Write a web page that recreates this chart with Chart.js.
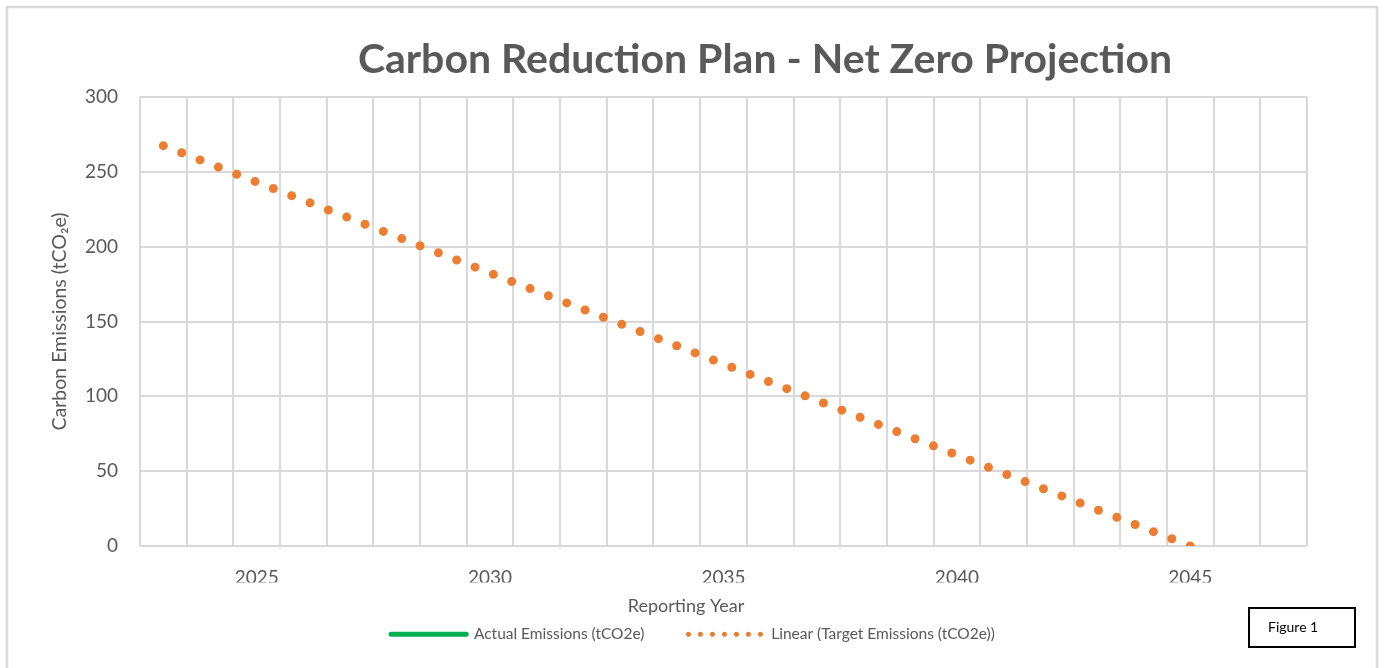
<!DOCTYPE html>
<html>
<head>
<meta charset="utf-8">
<script src="https://cdn.jsdelivr.net/npm/chart.js@4.4.1/dist/chart.umd.min.js"></script>
<style>
  html, body { margin: 0; padding: 0; background: #fff; }
  #wrap { width: 1386px; height: 668px; }
</style>
</head>
<body>
<div id="wrap"><canvas id="netZeroChart" width="1386" height="668"></canvas></div>
<script>
// données
const seriesNames = ['Actual Emissions (tCO2e)', 'Linear (Target Emissions (tCO2e))'];
const actualYears = [];
const actualEmissions = [];
const targetYears = [2023, 2045];
const targetEmissions = [267.5, 0];
const xLabelYears = [2025, 2030, 2035, 2040, 2045];
const yTicks = [0, 50, 100, 150, 200, 250, 300];

const FONT = 'Lato, Calibri, "Open Sans", sans-serif';
const GREY = '#595959';
const GRID = '#d9d9d9';
const PAD_BOTTOM = 16;

// titre, titre d'axe X, cadre et étiquette "Figure 1"
const decor = {
  id: 'decor',
  beforeDraw(chart) {
    const ctx = chart.ctx;
    ctx.save();
    ctx.fillStyle = '#fff';
    ctx.fillRect(0, 0, chart.width, chart.height);
    ctx.strokeStyle = GRID;
    ctx.lineWidth = 2.5;
    ctx.strokeRect(7, 7, 1370, 680);
    ctx.restore();
  },
  afterDraw(chart) {
    const ctx = chart.ctx;
    ctx.save();
    ctx.fillStyle = GREY;
    ctx.textAlign = 'center';
    ctx.textBaseline = 'alphabetic';
    ctx.font = 'bold 41px ' + FONT;
    ctx.fillText('Carbon Reduction Plan - Net Zero Projection', 765, 73);
    ctx.font = '18px ' + FONT;
    ctx.textBaseline = 'middle';
    ctx.fillText('Reporting Year', 686, 606);
    ctx.strokeStyle = '#000';
    ctx.lineWidth = 2;
    ctx.strokeRect(1249, 608, 106, 39);
    ctx.fillStyle = '#000';
    ctx.textAlign = 'left';
    ctx.font = '14px ' + FONT;
    ctx.fillText('Figure 1', 1268, 627);
    ctx.restore();
  }
};

new Chart(document.getElementById('netZeroChart'), {
  type: 'line',
  data: {
    datasets: [{
      label: seriesNames[0],
      data: actualYears.map((x, i) => ({ x: x, y: actualEmissions[i] })),
      borderColor: '#00B050',
      backgroundColor: '#00B050',
      borderWidth: 5,
      pointRadius: 0
    }, {
      label: seriesNames[1],
      data: targetYears.map((x, i) => ({ x: x, y: targetEmissions[i] })),
      borderColor: '#ED7D31',
      backgroundColor: '#ED7D31',
      borderWidth: 9,
      borderDash: [0, 19.68],
      borderCapStyle: 'round',
      pointRadius: 0,
      clip: 0
    }]
  },
  options: {
    responsive: false,
    animation: false,
    layout: { padding: { top: 97, right: 0, left: 0, bottom: PAD_BOTTOM } },
    plugins: {
      title: { display: false },
      tooltip: { enabled: false },
      legend: {
        position: 'bottom',
        labels: {
          usePointStyle: true,
          pointStyleWidth: 75,
          padding: 44,
          color: GREY,
          font: { family: FONT, size: 15.5 },
          generateLabels: (chart) => chart.data.datasets.map((ds, i) => ({
            text: ds.label,
            datasetIndex: i,
            pointStyle: 'line',
            strokeStyle: ds.borderColor,
            fillStyle: ds.borderColor,
            lineWidth: 5,
            lineCap: 'round',
            lineDash: i === 0 ? [] : [0, 12],
            fontColor: GREY
          }))
        }
      }
    },
    scales: {
      x: {
        type: 'linear',
        min: 2022.5,
        max: 2047.5,
        afterBuildTicks: (axis) => {
          const t = [];
          for (let y = 2023; y <= 2047; y++) t.push({ value: y });
          axis.ticks = t;
        },
        afterFit: (axis) => {
          const c = axis.chart;
          axis.height = c.height - 546 - c.legend.height - PAD_BOTTOM;
        },
        grid: { color: GRID, lineWidth: 2, offset: true, drawTicks: false },
        border: { display: false },
        ticks: {
          autoSkip: false,
          maxRotation: 0,
          padding: 20,
          color: GREY,
          font: { family: FONT, size: 19 },
          callback: (v) => xLabelYears.includes(v) ? String(v) : ''
        }
      },
      y: {
        min: yTicks[0],
        max: yTicks[yTicks.length - 1],
        afterFit: (axis) => { axis.width = 140; },
        grid: { color: GRID, lineWidth: 2, drawTicks: false },
        border: { display: false },
        ticks: {
          stepSize: 50,
          padding: 22,
          color: GREY,
          font: { family: FONT, size: 19 }
        },
        title: {
          display: true,
          text: 'Carbon Emissions (tCO₂e)',
          color: GREY,
          font: { family: FONT, size: 19.5 },
          padding: { top: 48, bottom: 0 }
        }
      },
      // marge droite (espace vide à droite de la zone de tracé)
      yRight: {
        position: 'right',
        min: yTicks[0],
        max: yTicks[yTicks.length - 1],
        afterFit: (axis) => { axis.width = 79; },
        grid: { display: false },
        border: { display: false },
        ticks: { display: false }
      }
    }
  },
  plugins: [decor]
});
</script>
</body>
</html>
